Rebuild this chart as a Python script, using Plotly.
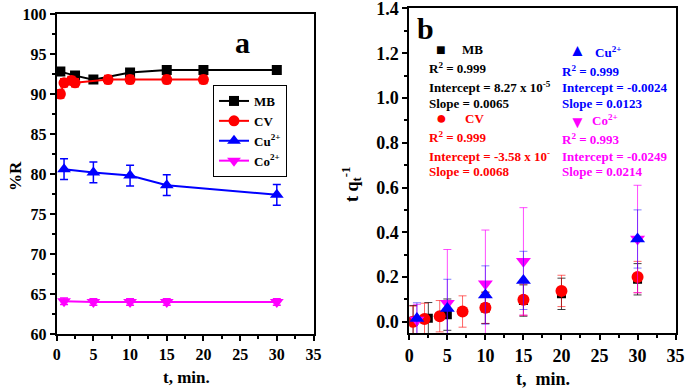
import plotly.graph_objects as go

# ---------------- Panel a data (%R vs t) ----------------
t_mb_a = [0.5, 2.5, 5, 10, 15, 20, 30]
r_mb_a = [92.8, 92.3, 91.8, 92.7, 93.0, 93.0, 93.0]
e_mb_a = [0.3, 0.3, 0.3, 0.3, 0.3, 0.3, 0.3]

t_cv_a = [0.5, 1, 2, 2.5, 7, 10, 15, 20]
r_cv_a = [90.0, 91.4, 91.7, 91.4, 91.8, 91.8, 91.8, 91.8]
e_cv_a = [0.5, 0.5, 0.5, 0.5, 0.5, 0.5, 0.5, 0.5]

t_cu_a = [1, 5, 10, 15, 30]
r_cu_a = [80.6, 80.2, 79.8, 78.6, 77.4]
e_cu_a = [1.3, 1.3, 1.3, 1.3, 1.3]

t_co_a = [1, 5, 10, 15, 30]
r_co_a = [64.1, 64.0, 64.0, 64.0, 64.0]
e_co_a = [0.4, 0.4, 0.4, 0.4, 0.4]

# ---------------- Panel b data (t/qt vs t) ----------------
t_mb_b = [0.5, 2.5, 5, 10, 15, 20, 30]
q_mb_b = [0.003, 0.016, 0.032, 0.062, 0.095, 0.125, 0.19]
e_mb_b = [0.07, 0.07, 0.07, 0.07, 0.07, 0.07, 0.07]

t_cv_b = [0.5, 2, 4, 7, 10, 15, 20, 30]
q_cv_b = [0.0, 0.013, 0.025, 0.046, 0.063, 0.099, 0.138, 0.2]
e_cv_b = [0.07, 0.07, 0.07, 0.07, 0.07, 0.07, 0.07, 0.07]

t_cu_b = [1, 5, 10, 15, 30]
q_cu_b = [0.015, 0.06, 0.12, 0.185, 0.37]
e_cu_b = [0.07, 0.13, 0.13, 0.13, 0.13]

t_co_b = [1, 5, 10, 15, 30]
q_co_b = [0.008, 0.083, 0.17, 0.27, 0.37]
e_co_b = [0.07, 0.24, 0.24, 0.24, 0.24]

b_ticks = [0.0, 0.2, 0.4, 0.6, 0.8, 1.0, 1.2, 1.4]

names = ["MB", "CV", "Cu<sup>2+</sup>", "Co<sup>2+</sup>"]
colors = ["#000000", "#ff0000", "#0000ff", "#ff00ff"]
symbols = ["square", "circle", "triangle-up", "triangle-down"]
err_colors_b = ["rgba(0,0,0,0.75)", "rgba(255,0,0,0.6)", "rgba(0,0,255,0.5)", "rgba(255,0,255,0.7)"]

FONT = "Liberation Serif"
W, H = 685, 389

def px(x):
    return x / W

def py(y):
    return 1 - y / H

fig = go.Figure()

a_sets = [(t_mb_a, r_mb_a, e_mb_a, 10), (t_cv_a, r_cv_a, e_cv_a, 11),
          (t_cu_a, r_cu_a, e_cu_a, 12), (t_co_a, r_co_a, e_co_a, 12)]
for i, (tx, ry, ey, ms) in enumerate(a_sets):
    fig.add_trace(go.Scatter(
        x=tx, y=ry, name=names[i], mode="lines+markers",
        line=dict(color=colors[i], width=2),
        marker=dict(symbol=symbols[i], size=ms, color=colors[i]),
        error_y=dict(type="data", array=ey, color=colors[i], thickness=1.5, width=4),
        xaxis="x", yaxis="y", showlegend=True))

b_sets = [(t_mb_b, q_mb_b, e_mb_b, 9), (t_cv_b, q_cv_b, e_cv_b, 12),
          (t_co_b, q_co_b, e_co_b, 13), (t_cu_b, q_cu_b, e_cu_b, 13)]
b_idx = [0, 1, 3, 2]
for (tx, qy, ey, ms), i in zip(b_sets, b_idx):
    fig.add_trace(go.Scatter(
        x=tx, y=qy, name=names[i], mode="markers",
        marker=dict(symbol=symbols[i], size=ms, color=colors[i]),
        error_y=dict(type="data", array=ey, color=err_colors_b[i], thickness=1, width=4),
        xaxis="x2", yaxis="y2", showlegend=False))

axis_common = dict(showline=True, linecolor="black", linewidth=2, mirror=True,
                   showgrid=False, zeroline=False, ticks="outside", ticklen=5,
                   tickwidth=2, tickcolor="black", automargin=False,
                   ticklabeloverflow="allow")

fig.update_layout(
    width=W, height=H,
    margin=dict(l=0, r=0, t=0, b=0),
    plot_bgcolor="white", paper_bgcolor="white",
    font=dict(family=FONT, color="black", size=16, weight="bold"),
    xaxis=dict(domain=[px(56.7), px(313.5)], range=[0, 35], dtick=5,
               minor=dict(ticks="outside", ticklen=3, dtick=2.5, tickwidth=1.5, tickcolor="black"),
               tickfont=dict(size=16, family=FONT, weight="bold"), anchor="y", **axis_common),
    yaxis=dict(domain=[py(334), py(14)], range=[60, 100.001], dtick=5,
               minor=dict(ticks="outside", ticklen=3, dtick=2.5, tickwidth=1.5, tickcolor="black"),
               tickfont=dict(size=16, family=FONT, weight="bold"), anchor="x", **axis_common),
    xaxis2=dict(domain=[px(409.3), px(675.6)], range=[0, 35], dtick=5,
                minor=dict(ticks="outside", ticklen=3, dtick=2.5, tickwidth=1.5, tickcolor="black"),
                tickfont=dict(size=18, family=FONT, weight="bold"), anchor="y2", **axis_common),
    yaxis2=dict(domain=[py(333), py(8)], range=[-0.05, 1.402],
                tickmode="array", tickvals=b_ticks, ticktext=[f"{v:.1f}" for v in b_ticks],
                minor=dict(ticks="outside", ticklen=3, dtick=0.1, tick0=0, tickwidth=1.5, tickcolor="black"),
                tickfont=dict(size=18, family=FONT, weight="bold"), anchor="x2", **axis_common),
    legend=dict(x=px(213), y=py(85), xanchor="left", yanchor="top",
                bordercolor="black", borderwidth=1, bgcolor="white",
                font=dict(size=13, family=FONT, weight="bold"),
                tracegroupgap=0, itemwidth=30),
)

ann = []
def add_text(x, y, text, color="black", size=13, xanchor="left", angle=0):
    ann.append(dict(x=px(x), y=py(y), xref="paper", yref="paper", text=text,
                    showarrow=False, xanchor=xanchor, yanchor="middle",
                    textangle=angle,
                    font=dict(family=FONT, size=size, color=color, weight="bold")))

# axis titles
add_text(15, 176, "%R", size=17, xanchor="center", angle=-90)
add_text(186, 377, "t, min.", size=17, xanchor="center")
add_text(352, 185, "t q<sub>t</sub><sup>-1</sup>", size=18, xanchor="center", angle=-90)
add_text(543, 379, "t,  min.", size=18, xanchor="center")

# panel labels
add_text(243, 43, "a", size=30, xanchor="center")
add_text(426, 28, "b", size=30, xanchor="center")

# panel b fit statistics
add_text(434, 49, "■", "black", 16)
add_text(460, 49, "MB", "black", 13)
add_text(427, 68, "R<sup>2</sup> = 0.999", "black")
add_text(427, 87, "Intercept = 8.27 x 10<sup>-5</sup>", "black")
add_text(427, 103, "Slope = 0.0065", "black")
add_text(434, 118, "●", "#ff0000", 18)
add_text(463, 118, "CV", "#ff0000", 13)
add_text(427, 137, "R<sup>2</sup> = 0.999", "#ff0000")
add_text(427, 156, "Intercept = -3.58 x 10<sup>-</sup>", "#ff0000")
add_text(427, 172, "Slope = 0.0068", "#ff0000")

add_text(567, 51, "▲", "#0000ff", 17)
add_text(593, 52, "Cu<sup>2+</sup>", "#0000ff", 13)
add_text(560, 71, "R<sup>2</sup> = 0.999", "#0000ff")
add_text(560, 87, "Intercept = -0.0024", "#0000ff")
add_text(560, 103, "Slope = 0.0123", "#0000ff")
add_text(567, 122, "▼", "#ff00ff", 17)
add_text(590, 120, "Co<sup>2+</sup>", "#ff00ff", 13)
add_text(560, 139, "R<sup>2</sup> = 0.993", "#ff00ff")
add_text(560, 156, "Intercept = -0.0249", "#ff00ff")
add_text(560, 172, "Slope = 0.0214", "#ff00ff")

fig.update_layout(annotations=ann)
fig.write_html("out.html", config={"displayModeBar": False},
               post_script="document.body.style.margin='0';document.body.style.overflow='hidden';")
